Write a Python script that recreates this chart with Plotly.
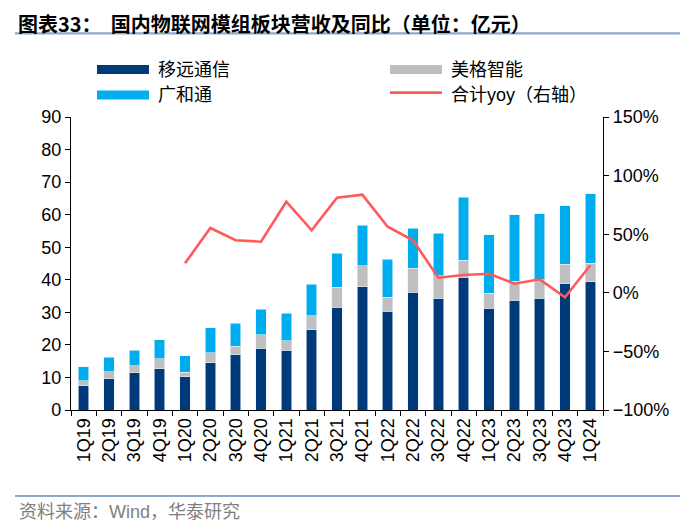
import plotly.graph_objects as go

quarters = ['1Q19', '2Q19', '3Q19', '4Q19', '1Q20', '2Q20', '3Q20', '4Q20',
            '1Q21', '2Q21', '3Q21', '4Q21', '1Q22', '2Q22', '3Q22', '4Q22',
            '1Q23', '2Q23', '3Q23', '4Q23', '1Q24']

# 单位：亿元
quectel = [7.4, 9.6, 11.5, 12.7, 10.2, 14.5, 17.0, 18.9, 18.4, 24.6, 31.6,
           37.8, 30.4, 36.2, 34.4, 40.8, 31.2, 33.7, 34.4, 38.8, 39.4]
meig = [1.6, 2.1, 2.1, 3.1, 1.4, 3.1, 2.6, 4.2, 2.8, 4.3, 6.1,
        6.5, 4.2, 7.3, 6.9, 5.2, 4.6, 5.8, 5.6, 6.0, 5.7]
fibocom = [4.3, 4.5, 4.8, 5.8, 5.1, 7.6, 7.0, 7.9, 8.5, 9.8, 10.4,
           12.5, 11.7, 12.4, 13.0, 19.3, 18.1, 20.5, 20.3, 18.0, 21.4]
# 合计yoy
total_yoy = [None, None, None, None, 0.252, 0.553, 0.448, 0.436, 0.777, 0.533, 0.812,
             0.837, 0.564, 0.448, 0.129, 0.152, 0.163, 0.078, 0.115, -0.038, 0.235]

navy = '#003A7A'
sky = '#00AEEF'
grey = '#BFBFBF'
red = '#FF5A5A'
rule = '#8EA9CC'
font_fam = 'Liberation Sans, Noto Sans CJK SC'
cjk = 'Noto Sans CJK SC'

fig = go.Figure()
for name, vals, col in [('移远通信', quectel, navy), ('美格智能', meig, grey), ('广和通', fibocom, sky)]:
    fig.add_trace(go.Bar(x=quarters, y=vals, name=name, marker_color=col,
                         marker_line=dict(color='#E6EEF7', width=0.6)))
fig.add_trace(go.Scatter(x=quarters, y=total_yoy, name='合计yoy（右轴）', mode='lines',
                         line=dict(color=red, width=2.6), yaxis='y2'))

# page body adds ~8px offset, so margins are shifted to compensate
fig.update_layout(
    barmode='stack', bargap=0.58,
    width=700, height=529,
    margin=dict(l=63, r=105, t=109, b=127),
    paper_bgcolor='white', plot_bgcolor='white',
    font=dict(family=font_fam, size=18, color='black'),
    showlegend=False,
    title=dict(text='<b>图表33：  国内物联网模组板块营收及同比（单位：亿元）</b>',
               xref='container', yref='container', x=0.0143, y=0.968,
               xanchor='left', yanchor='middle',
               font=dict(family=cjk, size=20, color='black')),
    xaxis=dict(type='category', tickangle=-90, ticks='outside', tickson='boundaries',
               ticklen=5, tickcolor='black', showline=True, linecolor='black', linewidth=1.2,
               showgrid=False, tickfont=dict(size=18)),
    yaxis=dict(range=[0, 90], dtick=10, ticks='outside', ticklen=5, tickcolor='black',
               showline=True, linecolor='black', linewidth=1.2, showgrid=False, zeroline=False),
    yaxis2=dict(range=[-1, 1.5], dtick=0.5, tickformat='.0%', overlaying='y', side='right',
                ticks='outside', ticklen=5, tickcolor='black', showline=True, linecolor='black',
                linewidth=1.2, showgrid=False, zeroline=False),
)

# rules and source
fig.add_shape(type='line', xref='paper', yref='paper', x0=-0.1053, x1=1.1447, y0=1.2857, y1=1.2857,
              line=dict(color=rule, width=2.2))
fig.add_shape(type='line', xref='paper', yref='paper', x0=-0.1053, x1=1.1447, y0=-0.2935, y1=-0.2935,
              line=dict(color=rule, width=2.2))
fig.add_annotation(text='资料来源：Wind，华泰研究', xref='paper', yref='paper', x=-0.1015, y=-0.3475,
                   xanchor='left', yanchor='middle', showarrow=False,
                   font=dict(family=font_fam, size=18, color='#7F7F7F'))

# legend
leg = [('移远通信', navy, 0.0489, 1.1621, 'bar'), ('美格智能', grey, 0.5996, 1.1621, 'bar'),
       ('广和通', sky, 0.0489, 1.0751, 'bar'), ('合计yoy（右轴）', red, 0.5996, 1.0751, 'line')]
for txt, col, x0, yc, kind in leg:
    if kind == 'bar':
        fig.add_shape(type='rect', xref='paper', yref='paper', x0=x0, x1=x0 + 0.0977,
                      y0=yc - 0.0154, y1=yc + 0.0154, line=dict(width=0), fillcolor=col)
    else:
        fig.add_shape(type='line', xref='paper', yref='paper', x0=x0, x1=x0 + 0.0977,
                      y0=yc + 0.008, y1=yc + 0.008, line=dict(color=col, width=2.6))
    fig.add_annotation(text=txt, xref='paper', yref='paper', x=x0 + 0.111, y=yc,
                       xanchor='left', yanchor='middle', showarrow=False,
                       font=dict(family=font_fam, size=18, color='black'))

fig.write_html('out.html')
